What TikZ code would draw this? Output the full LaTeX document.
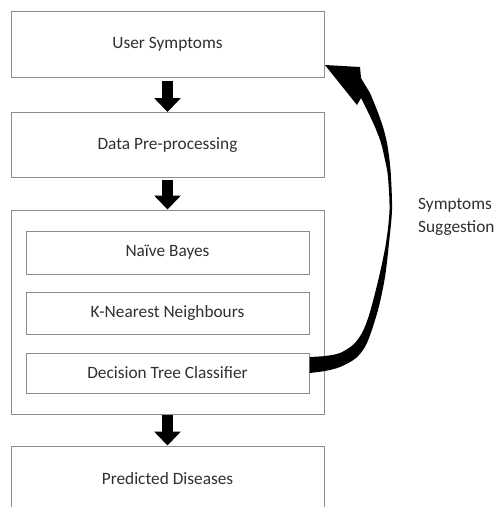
\documentclass[tikz,border=0pt]{standalone}
\usepackage{fontspec}
\setmainfont{Carlito}
\usetikzlibrary{arrows.meta,calc}
\definecolor{boxline}{HTML}{8C8C8C}
\definecolor{txt}{HTML}{303030}
\begin{document}
\begin{tikzpicture}[x=1pt,y=-1pt,
  font=\fontsize{17.3}{23}\selectfont,
  box/.style={draw=boxline,line width=1pt,fill=white,inner sep=0pt,text=txt,minimum width=313pt},
  inbox/.style={draw=boxline,line width=1pt,fill=white,inner sep=0pt,text=txt,minimum width=283pt},
  blockarrow/.style={line width=11pt,-{Triangle[width=26pt,length=14pt]}}]
\useasboundingbox (0,0) rectangle (496,507);
\clip (0,0) rectangle (496,507);
\node[box,minimum height=66pt] (user) at (167.5,44) {User Symptoms};
\node[box,minimum height=65pt] (pre) at (167.5,145) {Data Pre-processing};
\node[box,minimum height=204pt] (models) at (167.5,312) {};
\node[inbox,minimum height=43pt] (nb) at (167.5,252.5) {Naïve Bayes};
\node[inbox,minimum height=42pt] (knn) at (167.5,313) {K-Nearest Neighbours};
\node[inbox,minimum height=40pt] (dtc) at (167.5,373) {Decision Tree Classifier};
\node[box,minimum height=66pt] (pred) at (167.5,479) {Predicted Diseases};
\draw[blockarrow] ($(user.south)+(0,3)$) -- (pre.north);
\draw[blockarrow] ($(pre.south)+(0,2)$) -- (models.north);
\draw[blockarrow] ($(models.south)+(0,0.5)$) -- (pred.north);
\fill[black] plot[smooth,tension=0.5] coordinates {(309.5,357) (325,356) (340,353) (354,344) (363,331) (370,312) (379,277) (386,243) (389.5,210) (388,177) (385,160) (381,143) (375,127) (367,110) (361,98)}
  -- (357,105) -- (325,65) -- (360,67) -- (361,78)
  -- plot[smooth,tension=0.5] coordinates {(370,93) (377,110) (383,127) (387,143) (389.5,160) (391,177) (392,210) (389,243) (385,277) (378,310) (367,343) (356,358) (340,367) (325,371) (309.5,373)} -- cycle;
\node[anchor=west,align=left,inner sep=0pt,text=txt] (sugg) at (418,216.5) {Symptoms\\Suggestion};
\end{tikzpicture}
\end{document}
